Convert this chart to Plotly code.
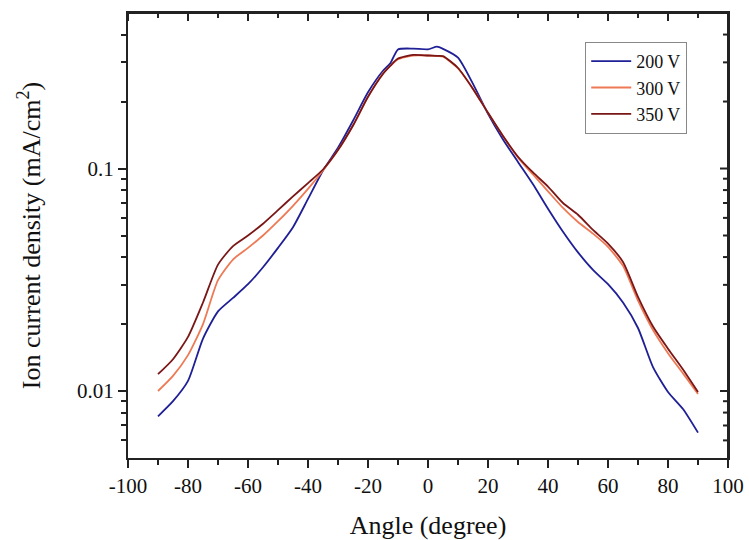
import numpy as np
import plotly.graph_objects as go

angles = [-90, -85, -80, -75, -70, -65, -60, -55, -50, -45, -40, -35, -30, -25, -20, -15,
          -12.5, -10, -5, 0, 3, 5, 10, 15, 20, 25, 30, 35, 40, 45, 50, 55, 60, 65, 70, 75, 80, 85, 90]

v200 = [0.0077, 0.0090, 0.0111, 0.0172, 0.0228, 0.0262, 0.0302, 0.0360, 0.0440, 0.0545, 0.0730,
        0.0980, 0.1240, 0.1640, 0.2200, 0.2750, 0.2980, 0.3430, 0.3460, 0.3430, 0.3530, 0.3450,
        0.3150, 0.2400, 0.1760, 0.1350, 0.1070, 0.0850, 0.0660, 0.0520, 0.0420, 0.0350, 0.0302,
        0.0250, 0.0192, 0.0128, 0.0099, 0.0083, 0.0065]

v300 = [0.0100, 0.0117, 0.0145, 0.0200, 0.0315, 0.0390, 0.0440, 0.0500, 0.0580, 0.0680, 0.0810,
        0.0980, 0.1210, 0.1560, 0.2100, 0.2680, 0.2900, 0.3100, 0.3220, 0.3220, 0.3200, 0.3180,
        0.2820, 0.2280, 0.1780, 0.1400, 0.1120, 0.0940, 0.0790, 0.0665, 0.0575, 0.0510, 0.0445,
        0.0365, 0.0255, 0.0188, 0.0148, 0.0120, 0.0097]

v350 = [0.0119, 0.0139, 0.0175, 0.0250, 0.0370, 0.0448, 0.0500, 0.0565, 0.0650, 0.0750, 0.0860,
        0.0990, 0.1210, 0.1560, 0.2100, 0.2660, 0.2900, 0.3120, 0.3240, 0.3220, 0.3210, 0.3200,
        0.2830, 0.2280, 0.1780, 0.1400, 0.1130, 0.0960, 0.0830, 0.0700, 0.0620, 0.0530, 0.0460,
        0.0380, 0.0265, 0.0195, 0.0155, 0.0125, 0.0099]

series_names = ["200 V", "300 V", "350 V"]
series_colors = ["#1f1f96", "#ee7a55", "#7a1616"]

x_ticks = list(range(-100, 101, 20))
x_ticktext = [str(v) for v in x_ticks]
x_minor = list(range(-90, 100, 20))
y_ticks = [0.01, 0.1]
y_ticktext = ["0.01", "0.1"]
y_minor = [0.006, 0.007, 0.008, 0.009, 0.02, 0.03, 0.04, 0.05, 0.06, 0.07, 0.08, 0.09,
           0.2, 0.3, 0.4]

FONT = "Liberation Serif"
AX = "#222222"

fig = go.Figure()
for name, vals, col in zip(series_names, [v200, v300, v350], series_colors):
    fig.add_trace(go.Scatter(x=angles, y=vals, mode="lines", name=name,
                             line=dict(color=col, width=1.8, shape="spline", smoothing=0.6)))

# top and right frame lines
fig.add_shape(type="line", xref="paper", yref="paper", x0=0, x1=1, y0=1, y1=1,
              line=dict(color=AX, width=2))
fig.add_shape(type="line", xref="paper", yref="paper", x0=1, x1=1, y0=0, y1=1,
              line=dict(color=AX, width=2))
# inward ticks on the top frame (data x, pixel length)
for vals_, ln in ((x_ticks, 8), (x_minor, 5)):
    for v in vals_:
        fig.add_shape(type="line", xref="x", x0=v, x1=v, yref="paper", ysizemode="pixel",
                      yanchor=1, y0=0, y1=-ln, line=dict(color=AX, width=2))
# inward ticks on the right frame (data y, pixel length)
for vals_, ln in ((y_ticks, 8), (y_minor, 5)):
    for v in vals_:
        fig.add_shape(type="line", yref="y", y0=v, y1=v, xref="paper", xsizemode="pixel",
                      xanchor=1, x0=0, x1=-ln, line=dict(color=AX, width=2))

yr = [np.log10(0.005), np.log10(0.5)]
fig.update_layout(
    width=749, height=540,
    margin=dict(l=128, r=21, t=13, b=82),
    paper_bgcolor="white", plot_bgcolor="white",
    font=dict(family=FONT, size=21, color="#111"),
    showlegend=True,
    legend=dict(x=0.762, y=0.935, xanchor="left", yanchor="top",
                bgcolor="white", bordercolor="#888", borderwidth=1,
                font=dict(family=FONT, size=18, color="#111"),
                itemwidth=40, tracegroupgap=0),
    xaxis=dict(range=[-100, 100], tickvals=x_ticks, ticktext=x_ticktext, ticks="outside",
               ticklen=8, tickwidth=2, tickcolor=AX, showline=True, linecolor=AX, linewidth=2,
               mirror=True, showgrid=False, zeroline=False, automargin=False,
               tickfont=dict(size=21, family=FONT),
               minor=dict(dtick=10, tick0=0, ticks="outside", ticklen=5, tickwidth=2, tickcolor=AX),
               title=dict(text="Angle (degree)", font=dict(size=26, family=FONT), standoff=20)),
    yaxis=dict(type="log", range=yr, tickvals=y_ticks, ticktext=y_ticktext, ticks="outside",
               ticklen=8, tickwidth=2, tickcolor=AX, showline=True, linecolor=AX, linewidth=2,
               mirror=True, showgrid=False, zeroline=False, automargin=False,
               tickfont=dict(size=21, family=FONT),
               minor=dict(tickmode="array", tickvals=y_minor, ticks="outside", ticklen=5,
                          tickwidth=2, tickcolor=AX),
               title=dict(text="Ion current density (mA/cm<sup>2</sup>)",
                          font=dict(size=26, family=FONT), standoff=29)),
)
fig.write_html("out.html", config={"displayModeBar": False},
               post_script="document.body.style.margin='0';")
